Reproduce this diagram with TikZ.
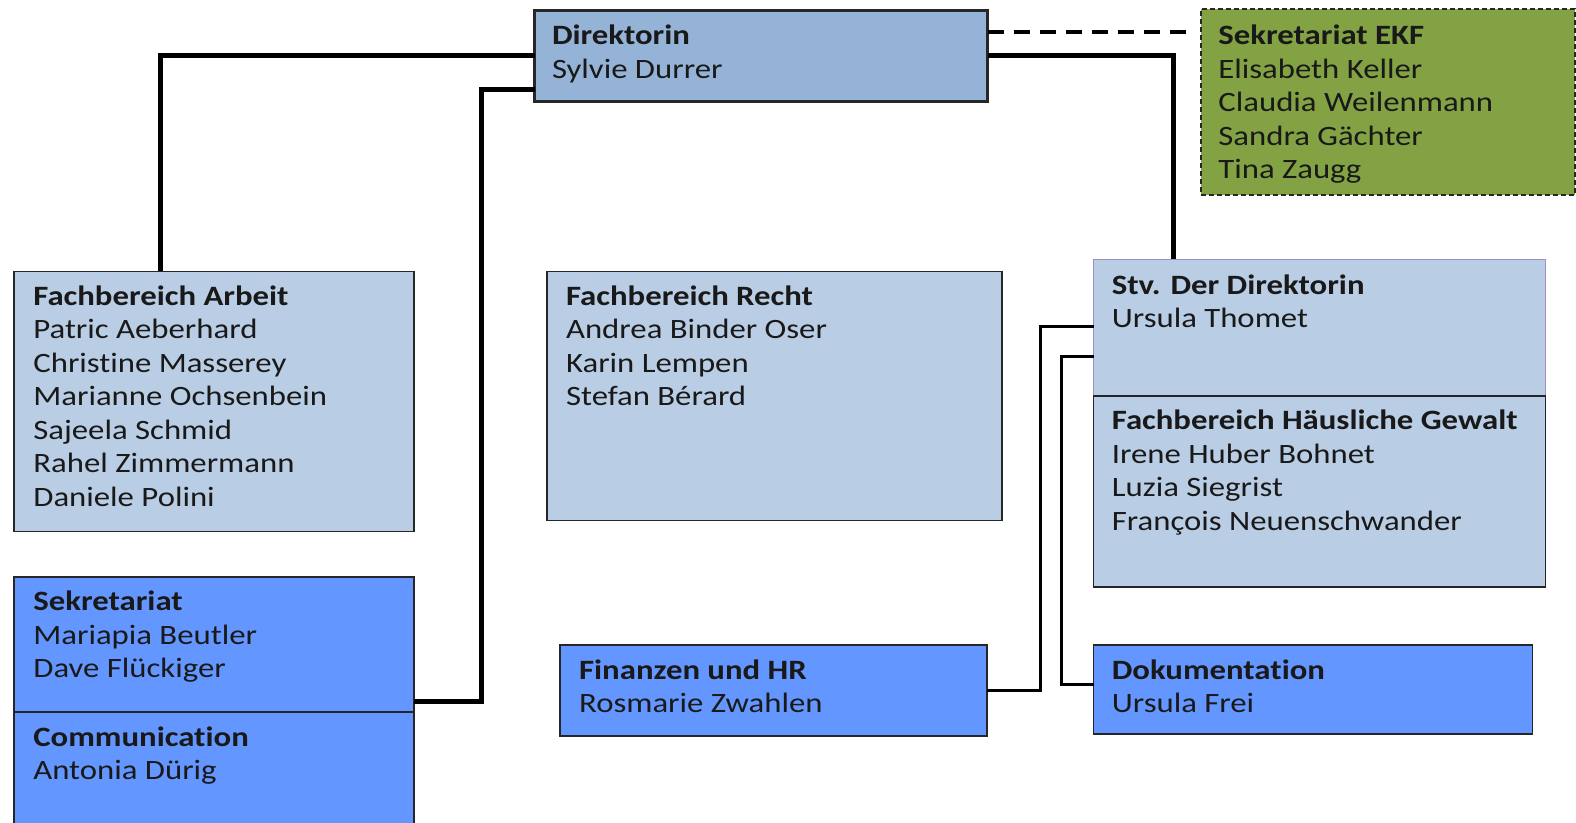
\documentclass[tikz,border=0pt]{standalone}
\usepackage{fontspec}
\setmainfont{Carlito}[FakeStretch=1.17,Ligatures=NoCommon]
\usetikzlibrary{calc}
\definecolor{dirblue}{HTML}{95B3D7}
\definecolor{lightblue}{HTML}{B9CDE5}
\definecolor{midblue}{HTML}{6496FF}
\definecolor{ekfgreen}{HTML}{82A243}
\definecolor{stvedge}{HTML}{A48CC8}
\begin{document}
\begin{tikzpicture}[x=1.0051pt,y=-1.0049pt,
  box/.style={draw=black!85, line width=1.5pt, anchor=north west, inner sep=0pt, outer sep=0pt},
  txt/.style={anchor=north west, inner sep=0pt, align=left, font=\fontsize{28}{33.5}\selectfont, text=black!90},
  thickline/.style={line width=5pt},
  thinline/.style={line width=2.8pt}]
\useasboundingbox (0,0) rectangle (1568,818);
\clip (0,0) rectangle (1568,818);
\fill[white] (0,0) rectangle (1568,818);

% boxes
\node[box, fill=dirblue, line width=3pt, minimum width=453pt, minimum height=91pt] (dir) at (532,10) {};
\node[box, fill=ekfgreen, dash pattern=on 5pt off 3pt, minimum width=374pt, minimum height=186pt] (ekf) at (1195,9) {};
\node[box, fill=lightblue, minimum width=400pt, minimum height=260pt] (arb) at (14,270) {};
\node[box, fill=lightblue, minimum width=455pt, minimum height=249pt] (rec) at (544,270) {};
\node[box, fill=lightblue, draw=stvedge, minimum width=452pt, minimum height=136pt] (stv) at (1088,258) {};
\node[box, fill=lightblue, minimum width=452pt, minimum height=191pt] (hg) at (1088,394) {};
\node[box, fill=midblue, minimum width=400pt, minimum height=135pt] (sek) at (14,574) {};
\node[box, fill=midblue, minimum width=400pt, minimum height=150pt] (com) at (14,709) {};
\node[box, fill=midblue, minimum width=427pt, minimum height=91pt] (fin) at (557,642) {};
\node[box, fill=midblue, minimum width=439pt, minimum height=89pt] (dok) at (1088,642) {};

% texts
\node[txt] (dirT) at ($(dir.north west)+(17,15)$) {\textbf{Direktorin}\\Sylvie Durrer};
\node[txt] (ekfT) at ($(ekf.north west)+(17,16)$) {\textbf{Sekretariat EKF}\\Elisabeth Keller\\Claudia Weilenmann\\Sandra Gächter\\Tina Zaugg};
\node[txt] (arbT) at ($(arb.north west)+(19,14)$) {\textbf{Fachbereich Arbeit}\\Patric Aeberhard\\Christine Masserey\\Marianne Ochsenbein\\Sajeela Schmid\\Rahel Zimmermann\\Daniele Polini};
\node[txt] (recT) at ($(rec.north west)+(19,14)$) {\textbf{Fachbereich Recht}\\Andrea Binder Oser\\Karin Lempen\\Stefan Bérard};
\node[txt] (stvT) at ($(stv.north west)+(18,15)$) {\textbf{Stv. Der Direktorin}\\Ursula Thomet};
\node[txt] (hgT) at ($(hg.north west)+(18,14)$) {\textbf{Fachbereich Häusliche Gewalt}\\Irene Huber Bohnet\\Luzia Siegrist\\François Neuenschwander};
\node[txt] (sekT) at ($(sek.north west)+(19,14)$) {\textbf{Sekretariat}\\Mariapia Beutler\\Dave Flückiger};
\node[txt] (comT) at ($(com.north west)+(19,14)$) {\textbf{Communication}\\Antonia Dürig};
\node[txt] (finT) at ($(fin.north west)+(19,14)$) {\textbf{Finanzen und HR}\\Rosmarie Zwahlen};
\node[txt] (dokT) at ($(dok.north west)+(18,14)$) {\textbf{Dokumentation}\\Ursula Frei};

% connectors
\draw[thickline] (dir.west |- 0,55) -| (arb.north -| 160,0);
\draw[thickline] (dir.west |- 0,89) -- (479,89) |- (sek.east |- 0,698);
\draw[thickline] (dir.east |- 0,55) -| (stv.north -| 1168,0);
\draw[line width=3.5pt, dash pattern=on 16pt off 10pt] (dir.east |- 0,32) -- ($(ekf.west |- 0,32)+(-12,0)$);
\draw[thinline] (stv.west |- 0,325) -- (1035,325) |- (fin.east |- 0,687);
\draw[thinline] (stv.west |- 0,355) -- (1056,355) |- (dok.west |- 0,681);
\end{tikzpicture}
\end{document}
